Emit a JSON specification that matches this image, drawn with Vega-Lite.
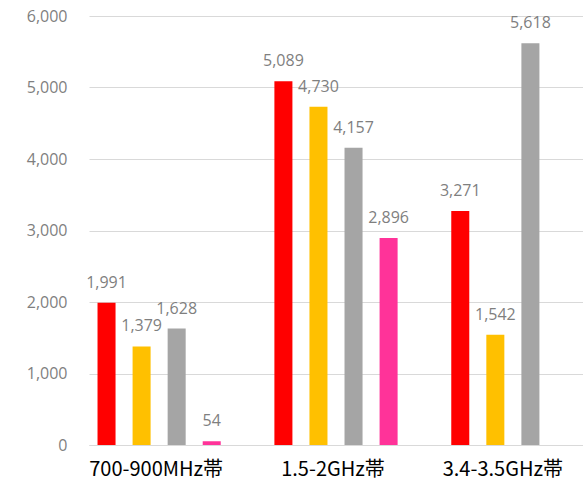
{
  "$schema": "https://vega.github.io/schema/vega-lite/v6.json",
  "width": 494,
  "height": 429,
  "autosize": {"type": "none"},
  "padding": {"left": 89, "top": 16, "right": 0, "bottom": 37},
  "background": "white",
  "config": {"view": {"stroke": null}},
  "data": {
    "values": [
      {"band": "700-900MHz帯", "carrier": "ドコモ", "value": 1991},
      {"band": "700-900MHz帯", "carrier": "KDDI", "value": 1379},
      {"band": "700-900MHz帯", "carrier": "ソフトバンク", "value": 1628},
      {"band": "700-900MHz帯", "carrier": "楽天モバイル", "value": 54},
      {"band": "1.5-2GHz帯", "carrier": "ドコモ", "value": 5089},
      {"band": "1.5-2GHz帯", "carrier": "KDDI", "value": 4730},
      {"band": "1.5-2GHz帯", "carrier": "ソフトバンク", "value": 4157},
      {"band": "1.5-2GHz帯", "carrier": "楽天モバイル", "value": 2896},
      {"band": "3.4-3.5GHz帯", "carrier": "ドコモ", "value": 3271},
      {"band": "3.4-3.5GHz帯", "carrier": "KDDI", "value": 1542},
      {"band": "3.4-3.5GHz帯", "carrier": "ソフトバンク", "value": 5618}
    ]
  },
  "encoding": {
    "x": {
      "field": "band",
      "type": "nominal",
      "sort": ["700-900MHz帯", "1.5-2GHz帯", "3.4-3.5GHz帯"],
      "scale": {"paddingInner": 0.207, "paddingOuter": 0},
      "axis": {
        "title": null,
        "labelAngle": 0,
        "ticks": false,
        "domain": true,
        "domainColor": "#d9d9d9",
        "domainWidth": 1,
        "labelPadding": 14,
        "labelOffset": {"condition": {"test": "datum.value == '3.4-3.5GHz帯'", "value": -10}, "value": -3},
        "labelFont": "Noto Sans CJK JP",
        "labelFontSize": 20,
        "labelColor": "#000000"
      }
    },
    "xOffset": {
      "field": "carrier",
      "type": "nominal",
      "sort": ["ドコモ", "KDDI", "ソフトバンク", "楽天モバイル"],
      "scale": {"domain": ["ドコモ", "KDDI", "ソフトバンク", "楽天モバイル"], "paddingInner": 0.486, "paddingOuter": 0.243}
    },
    "y": {
      "field": "value",
      "type": "quantitative",
      "scale": {"domain": [0, 6000], "nice": false},
      "axis": {
        "title": null,
        "values": [0, 1000, 2000, 3000, 4000, 5000, 6000],
        "format": ",.0f",
        "ticks": false,
        "domain": false,
        "grid": true,
        "gridColor": "#d9d9d9",
        "gridWidth": 1,
        "labelPadding": 22,
        "labelFont": "Open Sans",
        "labelFontSize": 16,
        "labelColor": "#7f7f7f"
      }
    }
  },
  "layer": [
    {
      "mark": {"type": "bar"},
      "encoding": {
        "color": {
          "field": "carrier",
          "type": "nominal",
          "scale": {"domain": ["ドコモ", "KDDI", "ソフトバンク", "楽天モバイル"], "range": ["#ff0000", "#ffc000", "#a5a5a5", "#ff3399"]},
          "legend": null
        }
      }
    },
    {
      "mark": {"type": "text", "baseline": "alphabetic", "align": "center", "dy": -15, "font": "Open Sans", "fontSize": 16, "color": "#7f7f7f"},
      "encoding": {
        "text": {"field": "value", "type": "quantitative", "format": ",.0f"}
      }
    }
  ]
}
